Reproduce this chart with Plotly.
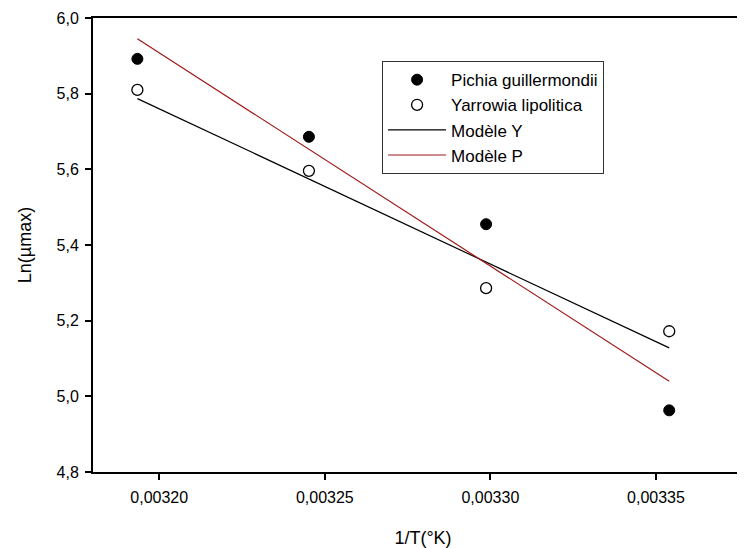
import plotly.graph_objects as go

# Data
inv_T = [0.0031934, 0.0032452, 0.0032987, 0.0033540]
pichia = [5.892, 5.686, 5.455, 4.963]
yarrowia = [5.810, 5.596, 5.286, 5.172]

model_x = [0.0031934, 0.0033540]
model_y = [5.787, 5.128]
model_p = [5.945, 5.040]

x_ticks = [0.00320, 0.00325, 0.00330, 0.00335]
y_ticks = [4.8, 5.0, 5.2, 5.4, 5.6, 5.8, 6.0]

FONT = "Liberation Sans, Arial, sans-serif"

fig = go.Figure()
fig.add_trace(go.Scatter(x=inv_T, y=pichia, mode="markers", name="Pichia guillermondii",
                         marker=dict(symbol="circle", size=11, color="black",
                                     line=dict(color="black", width=1))))
fig.add_trace(go.Scatter(x=inv_T, y=yarrowia, mode="markers", name="Yarrowia lipolitica",
                         marker=dict(symbol="circle-open", size=11, color="black",
                                     line=dict(color="black", width=1.3))))
fig.add_trace(go.Scatter(x=model_x, y=model_y, mode="lines", name="Modèle Y",
                         line=dict(color="black", width=1.2)))
fig.add_trace(go.Scatter(x=model_x, y=model_p, mode="lines", name="Modèle P",
                         line=dict(color="#a01818", width=1.2)))

fig.update_layout(
    width=745, height=548,
    margin=dict(l=85, r=0, t=10, b=84),
    paper_bgcolor="white", plot_bgcolor="white",
    separators=", ",
    font=dict(family=FONT, size=16, color="black"),
    showlegend=True,
    legend=dict(x=0.438, y=0.905, xanchor="left", yanchor="top",
                bordercolor="#333", borderwidth=1, bgcolor="white",
                font=dict(size=17, family=FONT), tracegroupgap=0,
                itemwidth=58),
    xaxis=dict(range=[0.003180, 0.0033793], tickvals=x_ticks, tickformat=".5f",
               showgrid=False, zeroline=False, showline=True, linecolor="black",
               linewidth=2, mirror=True, ticks="outside", ticklen=6, tickwidth=1.5,
               tickcolor="black", tickfont=dict(size=16), ticklabelstandoff=4,
               title=dict(text="1/T(°K)", font=dict(size=18), standoff=26)),
    yaxis=dict(range=[4.8, 6.0], tickvals=y_ticks, tickformat=".1f",
               showgrid=False, zeroline=False, showline=True, linecolor="black",
               linewidth=2, ticks="outside", ticklen=6, tickwidth=1.5,
               tickcolor="black", tickfont=dict(size=16), ticklabelstandoff=3,
               title=dict(text="Ln(µmax)", font=dict(size=18), standoff=20)),
)

fig.write_html("out.html")
